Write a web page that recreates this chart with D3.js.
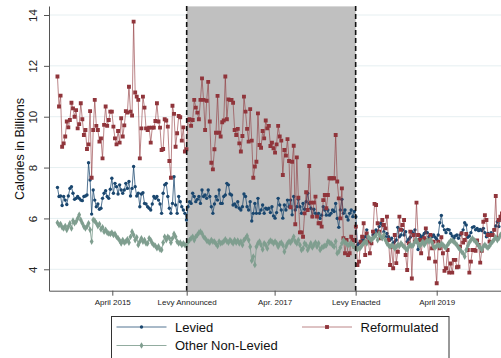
<!DOCTYPE html>
<html>
<head>
<meta charset="utf-8">
<script src="https://cdn.jsdelivr.net/npm/d3@7"></script>
<style>
  html, body { margin: 0; padding: 0; background: #fff; }
  svg { display: block; font-family: "Liberation Sans", Arial, sans-serif; }
</style>
</head>
<body>
<svg id="chart" width="501" height="358"></svg>
<script>
// Weekly calorie totals (billions), first week starting 28 July 2014
const firstWeek = "2014-07-28";

const levied = [
  7.22, 6.86, 6.88, 6.51, 6.86, 6.72, 6.55, 6.88, 7.18, 7.25,
  6.99, 6.75, 6.79, 6.86, 6.79, 6.72, 6.70, 6.86, 6.88, 6.92,
  8.19, 7.51, 6.17, 7.12, 6.72, 6.46, 6.57, 6.36, 6.40, 6.79,
  6.99, 7.09, 6.86, 6.79, 7.15, 7.58, 6.99, 7.38, 7.25, 6.96,
  7.32, 7.12, 6.99, 7.12, 7.38, 7.18, 7.45, 6.88, 7.18, 8.04,
  7.25, 6.88, 6.99, 6.46, 6.96,
  7.01, 6.59, 6.57, 6.46, 6.40, 6.33, 6.57, 6.86, 6.79, 6.86,
  6.72, 6.57, 6.20, 6.99, 7.32, 7.38, 6.86, 6.40, 6.20, 6.59,
  7.64, 6.53, 6.20, 6.86, 6.66, 6.46, 6.33, 6.20, 5.94, 6.46,
  6.66, 6.59, 6.99, 6.86, 6.66, 6.75, 6.86, 6.59, 7.12, 6.86,
  6.92, 6.79, 7.12, 6.86, 6.46, 6.20, 6.57, 6.86, 6.72, 7.12,
  6.59, 6.59, 6.86, 6.92, 7.38, 7.32, 6.96,
  6.92, 6.53, 6.57, 6.46, 6.66, 6.40, 6.33, 6.46, 6.96, 6.86,
  6.46, 6.33, 6.66, 5.90, 6.20, 6.59, 6.20, 6.79, 6.20, 6.33,
  6.53, 6.20, 6.40, 6.36, 6.40, 6.23, 6.46, 6.10, 6.01, 6.23,
  6.79, 6.53, 6.33, 6.01, 6.53, 6.33, 6.72, 6.46, 6.72, 6.14,
  6.86, 6.33, 6.46, 6.75, 6.46, 6.20, 6.59, 6.36, 6.66, 6.99,
  6.59, 6.40, 6.07, 6.36, 6.20, 6.14,
  6.20, 6.00, 6.13, 6.46, 6.33, 6.13, 6.33, 6.13, 6.20, 6.33,
  6.27, 6.59, 6.00, 5.65, 6.33, 6.75, 6.20, 6.33, 6.07, 5.94,
  6.20, 6.33, 6.07, 6.27, 6.07, 4.95, 5.02, 5.09, 5.15, 5.15,
  5.28, 5.55, 5.22, 5.09, 5.18, 5.35, 5.41, 5.55, 5.48, 5.68,
  5.81, 5.74, 5.48, 5.28, 5.41, 5.28, 5.15, 5.22, 5.02, 5.09,
  5.15, 5.65, 5.28, 5.35, 5.55, 5.35, 5.48,
  5.09, 5.18, 5.26, 5.48, 5.41, 5.55, 5.15, 4.78, 5.35, 5.26,
  5.31, 5.41, 5.48, 5.44, 5.28, 5.26, 5.28, 5.35, 5.26, 5.18,
  5.35, 5.83, 6.12, 5.70, 5.55, 5.44, 5.57, 5.55, 5.41, 5.31,
  5.22, 5.31, 5.35, 5.22, 5.35, 5.44, 5.55, 5.83, 5.74, 5.26,
  5.31, 5.44, 5.65, 5.68, 5.55, 5.61, 5.52, 5.57, 5.52, 5.61,
  5.44, 5.28, 5.41, 5.35, 5.44, 5.35, 5.55, 5.70, 5.87, 5.68,
  6.00, 6.13
];

const reformulated = [
  11.58, 10.40, 10.83, 8.82, 8.95, 9.22, 9.81, 9.58, 9.87, 10.55,
  10.33, 10.00, 10.26, 9.54, 9.71, 10.53, 9.90, 9.28, 9.48, 8.73,
  8.91, 10.22, 7.60, 9.48, 10.66, 9.64, 9.48, 9.02, 9.15, 8.36,
  9.68, 10.40, 9.64, 9.87, 10.20, 10.20, 9.61, 9.15, 8.91, 9.44,
  8.98, 9.94, 9.22, 9.66, 10.22, 10.16, 11.18, 10.20, 10.05, 13.74,
  10.95, 10.79, 10.66, 8.36, 9.54,
  10.79, 10.36, 9.54, 9.48, 9.57, 8.98, 9.57, 9.57, 9.83, 10.53,
  9.81, 9.57, 8.69, 8.73, 9.90, 9.85, 9.61, 8.26, 7.60, 10.43,
  10.11, 8.82, 9.35, 10.03, 9.98, 9.06, 9.58, 8.63, 8.72, 9.87,
  9.90, 9.64, 9.87, 10.66, 10.36, 10.16, 9.90, 10.66, 11.51, 10.66,
  9.48, 10.63, 11.37, 9.81, 8.19, 7.93, 8.72, 9.37, 10.82, 9.37,
  9.22, 9.78, 9.85, 11.58, 9.90, 10.68, 10.66,
  10.66, 10.55, 9.48, 9.28, 9.52, 8.95, 8.63, 9.24, 10.79, 10.20,
  9.52, 9.02, 10.30, 9.06, 7.60, 8.04, 8.23, 10.13, 8.89, 8.78,
  9.44, 9.15, 9.85, 9.54, 9.64, 8.85, 8.98, 8.76, 8.59, 8.91,
  9.64, 9.22, 9.06, 7.71, 8.69, 8.47, 9.12, 8.26, 6.44, 8.23,
  8.86, 5.77, 8.40, 6.82, 5.45, 5.45, 5.28, 6.20, 7.03, 6.33,
  8.06, 6.62, 6.07, 6.62, 6.86, 6.07,
  5.81, 5.81, 5.68, 6.72, 6.92, 6.40, 6.92, 7.58, 7.58, 7.58,
  7.58, 9.28, 7.45, 6.79, 6.00, 7.18, 5.22, 4.63, 5.15, 4.56,
  4.63, 5.28, 5.15, 4.89, 5.68, 4.17, 4.30, 5.09, 5.28, 5.81,
  4.56, 5.41, 5.09, 4.63, 5.02, 5.48, 6.57, 6.53, 5.81, 5.48,
  5.22, 5.94, 5.74, 5.61, 6.07, 5.15, 4.17, 4.89, 4.04, 5.35,
  4.24, 4.69, 6.07, 5.55, 5.74, 5.94, 4.56,
  3.97, 5.02, 5.48, 3.64, 5.35, 5.09, 6.62, 5.35, 5.15, 4.63,
  5.15, 5.22, 5.61, 5.15, 4.43, 5.35, 4.82, 5.09, 4.30, 3.45,
  5.09, 4.82, 5.26, 4.63, 3.94, 4.04, 4.76, 3.87, 4.23, 3.87,
  4.37, 4.37, 4.08, 4.10, 4.89, 5.41, 5.05, 5.15, 5.39, 4.76,
  3.87, 4.30, 4.76, 4.76, 4.73, 5.13, 4.96, 4.26, 4.73, 5.87,
  6.13, 5.94, 5.35, 5.09, 5.35, 5.35, 5.55, 6.88, 5.22, 5.94,
  6.07, 6.20
];

const otherNonLevied = [
  5.83, 5.74, 5.78, 5.65, 5.61, 5.70, 5.55, 5.68, 5.81, 5.61,
  5.91, 5.81, 5.87, 6.00, 6.14, 5.94, 5.81, 5.68, 5.61, 5.68,
  5.81, 5.55, 5.09, 5.94, 5.91, 5.81, 5.70, 5.78, 5.57, 5.65,
  5.48, 5.55, 5.44, 5.41, 5.39, 5.44, 5.35, 5.39, 5.28, 5.22,
  5.13, 5.02, 5.15, 5.05, 5.09, 5.18, 5.05, 5.28, 5.48, 5.35,
  5.15, 5.26, 4.96, 5.09, 5.22,
  5.09, 5.15, 5.02, 5.02, 5.22, 5.15, 5.02, 4.96, 4.92, 4.83,
  4.90, 4.78, 4.76, 5.05, 5.28, 5.15, 5.28, 5.22, 5.05, 5.22,
  5.39, 5.28, 5.09, 5.02, 5.05, 4.96, 5.02, 4.96, 4.92, 5.09,
  5.15, 5.22, 5.28, 5.15, 5.28, 5.35, 5.44, 5.48, 5.41, 5.28,
  5.22, 5.13, 5.09, 5.05, 5.15, 5.09, 5.09, 5.00, 4.92, 5.09,
  5.02, 5.05, 5.09, 5.18, 5.10, 5.05, 5.15,
  5.09, 5.02, 5.15, 5.05, 5.13, 5.02, 5.09, 4.96, 5.15, 5.22,
  5.31, 5.15, 4.89, 4.34, 4.50, 4.17, 4.89, 5.02, 5.09, 4.96,
  4.78, 5.02, 4.96, 4.82, 5.05, 5.13, 5.09, 5.02, 5.09, 5.02,
  4.89, 5.00, 5.05, 4.96, 4.69, 4.89, 5.02, 5.09, 5.05, 5.15,
  5.28, 5.09, 5.02, 5.15, 4.96, 4.76, 4.82, 5.02, 4.96, 4.76,
  4.89, 5.02, 4.86, 4.96, 5.05, 4.89,
  5.02, 4.76, 4.85, 4.89, 4.92, 4.95, 5.09, 5.05, 5.02, 4.95,
  4.89, 5.10, 4.63, 4.69, 4.85, 5.02, 5.15, 5.05, 5.02, 4.95,
  4.98, 5.02, 4.95, 4.89, 4.82, 4.78, 4.82, 4.85, 4.95, 5.02,
  5.09, 5.02, 5.28, 5.20, 5.15, 5.22, 5.28, 5.35, 5.15, 5.41,
  5.28, 5.22, 5.35, 5.15, 5.02, 4.95, 4.89, 4.95, 4.90, 4.82,
  4.89, 4.96, 4.92, 5.02, 4.95, 4.89, 4.82,
  4.76, 4.89, 4.96, 4.92, 4.96, 5.09, 5.15, 5.02, 4.92, 4.99,
  5.09, 4.96, 5.05, 5.15, 5.09, 5.18, 5.05, 4.89, 4.86, 4.92,
  4.96, 4.92, 5.00, 4.96, 4.89, 4.86, 4.96, 5.05, 5.12, 5.13,
  5.09, 5.02, 4.96, 4.85, 4.78, 4.69, 4.63, 4.50, 4.76, 4.92,
  5.05, 5.15, 5.22, 5.15, 5.09, 5.02, 4.92, 4.85, 4.76, 4.90,
  4.96, 4.89, 4.85, 4.92, 5.02, 5.09, 5.18, 5.26, 5.15, 5.22,
  5.35, 5.40
];

// Axis ticks
const yTicks = [4, 6, 8, 10, 12, 14];
const xTickDates = ["2015-04-01", "2016-03-01", "2017-04-01", "2018-04-01", "2019-04-01"];
const xTickLabels = ["April 2015", "Levy Announced", "Apr. 2017", "Levy Enacted", "April 2019"];
const levyAnnounced = "2016-03-01";
const levyEnacted = "2018-04-01";

const legendLabels = ["Levied", "Reformulated", "Other Non-Levied"];

// ---------------------------------------------------------------
const parse = d3.timeParse("%Y-%m-%d");
const start = parse(firstWeek);
const weekDate = i => d3.timeDay.offset(start, 7 * i);

const plot = { left: 49, top: 6, bottom: 290.7, right: 520 };

// Time axis: calibrated on the first and last labelled months
const x = d3.scaleTime()
  .domain([parse(xTickDates[0]), parse(xTickDates[4])])
  .range([112.3, 436.7]);
x.domain([x.invert(plot.left), x.invert(plot.right)]).range([plot.left, plot.right]);

const y = d3.scaleLinear()
  .domain([3.158, 14.354])
  .range([plot.bottom, plot.top]);

const svg = d3.select("#chart");
svg.append("rect").attr("width", 501).attr("height", 358).attr("fill", "#fff");

svg.append("defs").append("clipPath").attr("id", "plotclip")
  .append("rect")
  .attr("x", plot.left).attr("y", plot.top - 3)
  .attr("width", plot.right - plot.left).attr("height", plot.bottom - plot.top + 3);

// Horizontal grid
svg.append("g").selectAll("line").data(yTicks).join("line")
  .attr("x1", plot.left).attr("x2", plot.right)
  .attr("y1", d => y(d)).attr("y2", d => y(d))
  .attr("stroke", "#e6eff1").attr("stroke-width", 1);

// Levy period shading and boundary lines
const xa = x(parse(levyAnnounced)), xe = x(parse(levyEnacted));
svg.append("rect")
  .attr("x", xa).attr("y", plot.top)
  .attr("width", xe - xa).attr("height", plot.bottom - plot.top)
  .attr("fill", "#c0c0c0");
svg.append("line").attr("x1", xa).attr("x2", xe).attr("y1", plot.top + 0.5).attr("y2", plot.top + 0.5)
  .attr("stroke", "#d8d8d8").attr("stroke-width", 1);

// Series
const series = [
  { name: legendLabels[0], values: levied, color: "#1a476f", lineOpacity: 0.75, marker: "circle" },
  { name: legendLabels[1], values: reformulated, color: "#90353b", lineOpacity: 0.6, marker: "square" },
  { name: legendLabels[2], values: otherNonLevied, color: "#7f9e8f", lineOpacity: 0.85, marker: "diamond" }
];

const symbolFor = {
  circle: d3.symbol().type(d3.symbolCircle).size(9),
  square: d3.symbol().type(d3.symbolSquare).size(15),
  diamond: d3.symbol().type(d3.symbolDiamond).size(13)
};

const line = d3.line()
  .x((d, i) => x(weekDate(i)))
  .y(d => y(d));

const gSeries = svg.append("g").attr("clip-path", "url(#plotclip)");
series.forEach(s => {
  const g = gSeries.append("g");
  g.append("path")
    .datum(s.values)
    .attr("d", line)
    .attr("fill", "none")
    .attr("stroke", s.color)
    .attr("stroke-opacity", s.lineOpacity)
    .attr("stroke-width", 1);
  g.selectAll("path.m").data(s.values).join("path")
    .attr("class", "m")
    .attr("d", symbolFor[s.marker])
    .attr("transform", (d, i) => `translate(${x(weekDate(i))},${y(d)})`)
    .attr("fill", s.color);
});

// Dashed markers for the levy dates, drawn above the series
[xa, xe].forEach(xv => {
  svg.append("line")
    .attr("x1", xv).attr("x2", xv)
    .attr("y1", plot.top).attr("y2", plot.bottom)
    .attr("stroke", "#111").attr("stroke-width", 1.6)
    .attr("stroke-dasharray", "5,3");
});

// Y axis
const yAxis = svg.append("g")
  .attr("transform", `translate(${plot.left},0)`)
  .call(d3.axisLeft(y).tickValues(yTicks).tickSize(5).tickSizeOuter(0).tickFormat(d3.format("d")));
yAxis.select(".domain").attr("stroke", "#555");
yAxis.selectAll(".tick line").attr("stroke", "#555");
yAxis.selectAll(".tick text")
  .attr("x", 0).attr("y", -12).attr("dy", 0)
  .attr("transform", "rotate(-90)")
  .attr("text-anchor", "middle")
  .attr("font-size", 11.5)
  .attr("fill", "#222")
  .attr("font-family", "Liberation Sans, Arial, sans-serif");

// X axis
const xAxis = svg.append("g")
  .attr("transform", `translate(0,${plot.bottom})`)
  .call(d3.axisBottom(x)
    .tickValues(xTickDates.map(parse))
    .tickSize(5).tickSizeOuter(0)
    .tickFormat((d, i) => xTickLabels[i]));
xAxis.select(".domain").attr("stroke", "#555");
xAxis.selectAll(".tick line").attr("stroke", "#555");
xAxis.selectAll(".tick text")
  .attr("y", 9).attr("dy", "0.71em")
  .attr("font-size", 8)
  .attr("fill", "#222")
  .attr("font-family", "Liberation Sans, Arial, sans-serif");

// Y title
svg.append("text")
  .attr("transform", "translate(24,149) rotate(-90)")
  .attr("text-anchor", "middle")
  .attr("font-size", 12.5)
  .attr("fill", "#111")
  .text("Calories in Billions");

// Legend
const legend = svg.append("g");
legend.append("rect")
  .attr("x", 111.5).attr("y", 316.5)
  .attr("width", 337.5).attr("height", 60)
  .attr("fill", "#fff").attr("stroke", "#333").attr("stroke-width", 1);

const legendPos = [
  { x: 116.5, y: 327 },
  { x: 302, y: 327 },
  { x: 116.5, y: 345.5 }
];
series.forEach((s, i) => {
  const p = legendPos[i];
  const g = legend.append("g");
  g.append("line")
    .attr("x1", p.x).attr("x2", p.x + 50)
    .attr("y1", p.y).attr("y2", p.y)
    .attr("stroke", s.color).attr("stroke-opacity", s.lineOpacity).attr("stroke-width", 1);
  g.append("path")
    .attr("d", symbolFor[s.marker])
    .attr("transform", `translate(${p.x + 25},${p.y})`)
    .attr("fill", s.color);
  g.append("text")
    .attr("x", p.x + 58.5).attr("y", p.y + 4.6)
    .attr("font-size", 13)
    .attr("fill", "#111")
    .text(s.name);
});
</script>
</body>
</html>
